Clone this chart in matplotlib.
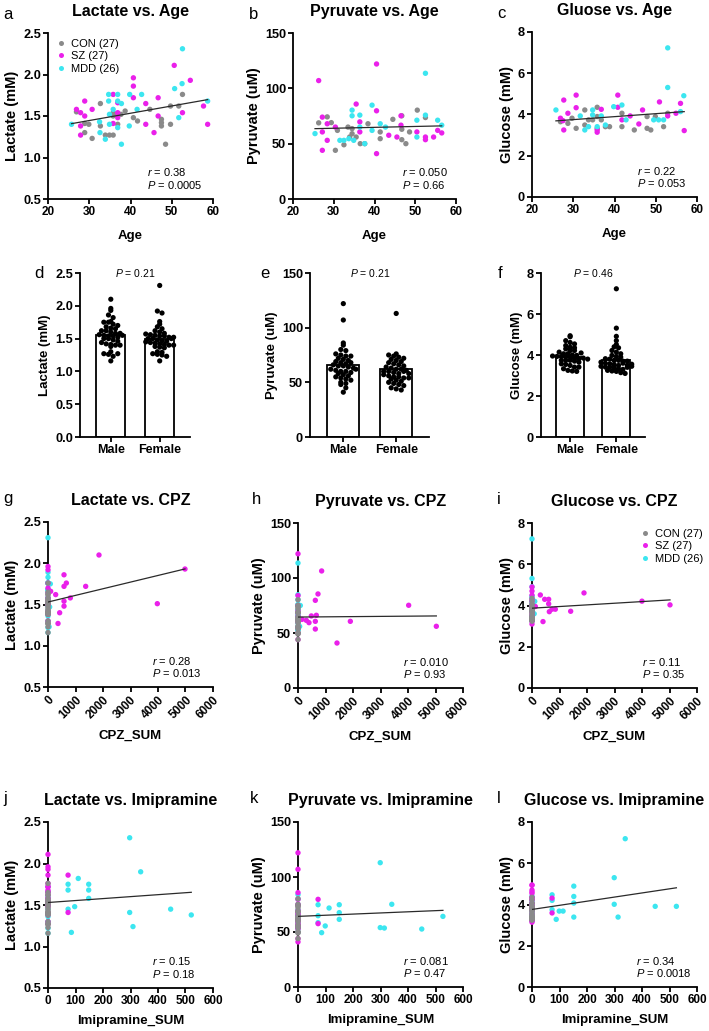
import numpy as np
import matplotlib
matplotlib.use('Agg')
import matplotlib.pyplot as plt

plt.rcParams['font.family'] = ['Liberation Sans', 'DejaVu Sans']
plt.rcParams['font.weight'] = 'normal'
plt.rcParams['axes.labelweight'] = 'bold'
plt.rcParams['axes.titleweight'] = 'bold'
plt.rcParams['mathtext.fontset'] = 'custom'
plt.rcParams['mathtext.rm'] = 'Liberation Sans'
plt.rcParams['mathtext.it'] = 'Liberation Sans:italic'
plt.rcParams['mathtext.bf'] = 'Liberation Sans:bold'

C_CON = '#8a8a8a'
C_SZ = '#ea20ea'
C_MDD = '#3ce6f0'
GROUP_LABELS = ['CON (27)', 'SZ (27)', 'MDD (26)']

# ---------------- Row 1 : metabolite vs age ----------------
age_con_a = [26.9, 28.9, 28.9, 29.9, 30.7, 32.7, 32.7, 33.9, 34.9, 35.8, 35.8, 35.8, 36.6, 37.7,
             38.7, 40.7, 41.7, 44.7, 47.5, 47.5, 47.5, 48.5, 49.7, 49.7, 51.7, 52.6, 36.9]
lac_con_a = [1.55, 1.41, 1.30, 1.40, 1.23, 1.65, 1.38, 1.27, 1.27, 1.27, 1.54, 1.50, 1.52, 1.52,
             1.56, 1.48, 1.44, 1.58, 1.46, 1.42, 1.38, 1.16, 1.62, 1.40, 1.62, 1.76, 1.40]
age_sz_a = [26.9, 27.9, 27.9, 27.9, 28.9, 28.9, 30.7, 35.8, 35.8, 36.9, 36.9, 36.9, 40.7, 40.7,
            40.7, 43.7, 43.7, 45.7, 46.7, 46.7, 50.6, 52.6, 54.5, 57.7, 58.7]
lac_sz_a = [1.58, 1.54, 1.38, 1.27, 1.68, 1.50, 1.58, 1.76, 1.41, 1.66, 1.48, 1.54, 1.96, 1.86,
            1.72, 1.65, 1.40, 1.30, 1.72, 1.50, 2.11, 1.54, 1.93, 1.62, 1.40]
age_mdd_a = [25.7, 32.5, 32.6, 33.9, 34.7, 34.7, 34.9, 35.8, 36.9, 36.9, 36.9, 37.8, 37.8, 39.8,
             39.7, 41.6, 42.7, 50.7, 51.7, 52.5, 52.6, 58.7, 34.9]
lac_mdd_a = [1.40, 1.43, 1.30, 1.22, 1.76, 1.68, 1.40, 1.58, 1.76, 1.68, 1.36, 1.65, 1.16, 1.76,
             1.38, 1.58, 1.76, 1.83, 1.48, 1.89, 2.31, 1.68, 1.52]

age_con_b = [26.3, 28.4, 29.4, 30.4, 32.5, 33.5, 34.5, 34.5, 35.5, 36.5, 37.6, 38.4, 41.4, 41.4,
             44.5, 46.7, 46.7, 46.7, 47.7, 48.6, 50.5, 52.5, 30.9, 33.9]
pyr_con_b = [68.8, 74.2, 69.0, 44.0, 49.0, 65.0, 63.6, 59.0, 56.0, 50.0, 50.0, 68.0, 60.6, 54.5,
             72.0, 75.2, 63.0, 53.6, 50.0, 60.6, 80.3, 73.6, 62.0, 56.0]
age_sz_b = [26.3, 27.2, 27.2, 27.2, 28.4, 28.4, 30.4, 35.5, 36.4, 36.4, 40.5, 40.5, 40.5, 43.5,
            45.5, 46.5, 46.5, 50.4, 52.5, 52.5, 54.5, 55.5, 56.5]
pyr_sz_b = [107.0, 74.0, 60.6, 44.0, 68.0, 53.0, 65.0, 85.8, 69.7, 60.6, 122.0, 79.7, 41.0, 57.6,
            56.0, 75.2, 66.7, 60.6, 56.0, 53.6, 56.0, 62.0, 59.7]
age_mdd_b = [25.4, 31.5, 32.5, 33.7, 34.5, 34.5, 34.9, 36.4, 36.4, 37.6, 39.4, 39.4, 41.4, 42.7,
             50.4, 50.4, 52.5, 52.5, 55.5, 56.5]
pyr_mdd_b = [59.1, 53.0, 53.0, 54.5, 80.3, 75.2, 53.0, 75.8, 65.0, 50.0, 84.8, 62.0, 68.0, 65.0,
             71.2, 56.0, 113.6, 75.8, 71.2, 66.7]

age_con_c = [26.9, 28.7, 29.7, 30.7, 32.8, 32.8, 33.7, 34.7, 35.8, 35.8, 35.8, 36.8, 37.8, 38.8,
             41.8, 41.8, 44.8, 47.9, 47.9, 48.8, 49.9, 51.9, 52.9]
glu_con_c = [3.65, 3.57, 3.82, 3.33, 4.22, 3.49, 3.74, 3.74, 4.35, 3.90, 3.33, 3.74, 3.41, 3.41,
             4.06, 3.41, 3.25, 3.90, 3.33, 3.25, 3.90, 3.41, 4.06]
age_sz_c = [26.9, 27.7, 27.7, 28.7, 30.7, 30.7, 35.8, 35.8, 36.8, 40.8, 40.8, 41.8, 43.8, 45.9,
            46.8, 50.9, 52.9, 54.9, 56.0, 56.9, 27.5]
glu_sz_c = [3.82, 4.70, 3.25, 4.06, 4.94, 4.33, 3.25, 3.14, 4.25, 4.94, 4.35, 3.74, 3.93, 3.54,
            4.22, 4.61, 3.93, 4.06, 4.54, 3.22, 3.70]
age_mdd_c = [25.8, 31.7, 32.8, 33.7, 34.7, 34.7, 35.8, 36.8, 37.8, 39.8, 41.8, 42.8, 49.5, 50.7,
             51.9, 52.9, 52.9, 56.0, 56.8]
glu_mdd_c = [4.22, 3.93, 3.25, 3.41, 4.22, 3.98, 3.41, 3.93, 3.49, 4.38, 4.46, 3.74, 3.74, 3.74,
             3.74, 5.31, 7.23, 4.14, 4.91]

# regression lines (intercept, slope)
fit_a = (1.182, 0.00878)
fit_b = (61.5, 0.081)
fit_c = (3.32, 0.0144)
fit_g = (1.53, 8.05e-5)
fit_h = (64.5, 2.0e-4)
fit_i = (3.87, 8.0e-5)
fit_j = (1.53, 2.36e-4)
fit_k = (64.2, 0.0104)
fit_l = (3.76, 0.0020)

stats_a = ('0.38', '0.0005')
stats_b = ('0.050', '0.66')
stats_c = ('0.22', '0.053')
stats_g = ('0.28', '0.013')
stats_h = ('0.010', '0.93')
stats_i = ('0.11', '0.35')
stats_j = ('0.15', '0.18')
stats_k = ('0.081', '0.47')
stats_l = ('0.34', '0.0018')

# ---------------- Row 2 : sex comparison ----------------
sex_labels = ['Male', 'Female']
lac_mean = [1.56, 1.50]
pyr_mean = [65.7, 61.8]
glu_mean = [3.89, 3.77]
p_sex = ['0.21', '0.21', '0.46']
lac_male = [2.10, 1.96, 1.93, 1.86, 1.82, 1.76, 1.75, 1.75, 1.72, 1.70, 1.68, 1.66, 1.65, 1.62,
            1.62, 1.60, 1.58, 1.58, 1.56, 1.55, 1.54, 1.54, 1.52, 1.50, 1.50, 1.48, 1.46, 1.44,
            1.42, 1.41, 1.40, 1.40, 1.38, 1.30, 1.27, 1.26, 1.23, 1.16, 1.27, 1.55]
lac_female = [2.31, 1.92, 1.89, 1.76, 1.72, 1.68, 1.65, 1.62, 1.60, 1.58, 1.57, 1.56, 1.55, 1.54,
              1.54, 1.52, 1.50, 1.50, 1.48, 1.47, 1.46, 1.45, 1.44, 1.43, 1.42, 1.41, 1.40, 1.40,
              1.38, 1.37, 1.36, 1.30, 1.29, 1.27, 1.26, 1.25, 1.23, 1.16, 1.50, 1.52]
pyr_male = [122, 107, 86, 84, 80, 79, 76, 75, 74, 74, 72, 71, 70, 69, 68, 67, 66, 65, 65, 64,
            63, 62, 61, 60, 60, 59, 58, 57, 56, 55, 54, 53, 52, 50, 49, 48, 45, 41, 62, 68]
pyr_female = [113, 76, 75, 74, 73, 72, 71, 70, 69, 68, 67, 66, 65, 64, 63, 62, 62, 61, 60, 60,
              59, 58, 57, 56, 55, 55, 54, 54, 53, 52, 51, 50, 49, 48, 47, 45, 44, 43, 60, 58]
glu_male = [4.94, 4.89, 4.70, 4.61, 4.54, 4.46, 4.38, 4.35, 4.30, 4.22, 4.22, 4.14, 4.06, 4.06,
            4.00, 3.98, 3.95, 3.93, 3.93, 3.90, 3.90, 3.82, 3.82, 3.74, 3.74, 3.74, 3.70, 3.65,
            3.57, 3.54, 3.49, 3.41, 3.41, 3.33, 3.25, 3.22, 3.20, 4.10, 3.85, 3.80]
glu_female = [7.23, 5.31, 4.91, 4.70, 4.51, 4.40, 4.35, 4.22, 4.14, 4.06, 3.98, 3.93, 3.90, 3.82,
              3.80, 3.74, 3.74, 3.70, 3.65, 3.60, 3.57, 3.54, 3.49, 3.45, 3.41, 3.41, 3.38, 3.33,
              3.30, 3.25, 3.22, 3.20, 3.14, 3.10, 3.60, 3.50, 3.40, 3.70, 3.55, 3.45]

# ---------------- Row 3 : CPZ ----------------
cpz_sz_g = [364, 424, 582, 582, 582, 582, 667, 812, 279, 97, 1370, 1854, 3975, 4981]
lac_sz_g = [1.27, 1.40, 1.86, 1.72, 1.54, 1.48, 1.76, 1.58, 1.62, 1.66, 1.72, 2.10, 1.51, 1.93]
lac_sz_cpz0 = [1.96, 1.92, 1.70, 1.64, 1.50, 1.42, 1.40, 1.54, 1.38, 1.30, 1.58, 1.76, 1.50]
cpz_mdd_g = [85, 60, 40]
lac_mdd_g = [1.75, 1.47, 1.23]

cpz_sz_h = [145, 303, 400, 485, 630, 630, 630, 667, 727, 860, 1418, 1903, 4024, 5030]
pyr_sz_h = [62.4, 61.5, 59.4, 65.5, 79.7, 60.6, 53.6, 66.1, 85.5, 106.4, 40.9, 60.6, 75.2, 56.1]
pyr_sz_cpz0 = [122, 84, 75, 70, 65, 60, 55, 50, 44, 68, 62]
cpz_mdd_h = [85, 60]
pyr_mdd_h = [75.0, 56.0]

cpz_sz_i = [121, 303, 400, 461, 606, 606, 630, 727, 848, 1406, 1891, 3999, 5018]
glu_sz_i = [3.95, 4.51, 3.22, 4.30, 4.30, 4.08, 3.70, 3.82, 3.82, 3.72, 4.61, 4.21, 4.03]
glu_sz_cpz0 = [4.90, 4.70, 3.10, 4.50, 3.80, 3.60, 3.30, 4.00, 3.70, 3.50, 4.20, 3.90, 3.25, 4.30]
cpz_mdd_i = [100, 80]
glu_mdd_i = [4.20, 3.60]

# ---------------- Row 4 : Imipramine ----------------
imi_mdd_j = [73, 73, 73, 97, 85, 110, 148, 148, 148, 297, 297, 309, 337, 446, 521]
lac_mdd_j = [1.75, 1.68, 1.45, 1.48, 1.17, 1.82, 1.75, 1.68, 1.58, 2.31, 1.41, 1.24, 1.90, 1.45, 1.38]
imi_sz_j = [73, 73]
lac_sz_j = [1.86, 1.41]
lac_mdd_imi0 = [1.72, 1.66, 1.60, 1.55, 1.50, 1.45, 1.40, 1.36, 1.30, 1.22, 1.16]

imi_mdd_k = [73, 73, 73, 86, 99, 113, 150, 150, 150, 299, 299, 314, 341, 450, 527]
pyr_mdd_k = [74.8, 64.8, 58.5, 49.4, 55.5, 71.8, 74.8, 67.6, 61.5, 113.0, 54.0, 53.6, 75.2, 52.7, 64.2]
imi_sz_k = [73, 73]
pyr_sz_k = [79.7, 57.6]
pyr_mdd_imi0 = [80, 75, 70, 66, 62, 58, 54, 53, 50, 84, 65]

imi_mdd_l = [73, 73, 73, 88, 99, 113, 152, 152, 152, 152, 299, 299, 313, 339, 448, 525]
glu_mdd_l = [4.47, 4.20, 3.75, 3.28, 3.68, 3.68, 4.89, 4.39, 4.07, 3.39, 5.30, 4.01, 3.39, 7.19, 3.91, 3.91]
imi_sz_l = [73, 73]
glu_sz_l = [4.31, 3.59]
glu_mdd_imi0 = [4.40, 4.20, 4.10, 3.90, 3.70, 3.50, 3.40, 3.30, 3.20, 4.00, 3.60]

# =====================================================================
W, H = 709, 1031
fig = plt.figure(figsize=(W / 100, H / 100), dpi=100)


def add_ax(l, r, t, b):
    return fig.add_axes([l / W, 1 - b / H, (r - l) / W, (b - t) / H])


def style(ax):
    for s in ('top', 'right'):
        ax.spines[s].set_visible(False)
    for s in ('left', 'bottom'):
        ax.spines[s].set_linewidth(1.3)
    ax.tick_params(direction='out', length=3.5, width=1.3, pad=1.5)
    ax.tick_params(axis='x', labelsize=8.5)
    ax.tick_params(axis='y', labelsize=9.2)


def boldticks(ax):
    for lab in ax.get_xticklabels() + ax.get_yticklabels():
        lab.set_fontweight('bold')


def scat(ax, x, y, c):
    ax.scatter(x, y, s=15, c=c, edgecolors='none', clip_on=False, zorder=3)


def letter(ax, s, dx, dy):
    ax.text(dx, dy, s, transform=ax.transAxes, fontsize=12, fontweight='normal',
            ha='left', va='center')


def stats(ax, r, p, x):
    ax.text(x, 0.16, r'$\mathit{r}$ = ' + r, transform=ax.transAxes, fontsize=8,
            fontweight='normal', ha='left', va='center')
    ax.text(x, 0.085, r'$\mathit{P}$ = ' + p, transform=ax.transAxes, fontsize=8,
            fontweight='normal', ha='left', va='center')


def fitline(ax, fit, x0, x1):
    xs = np.array([x0, x1])
    ax.plot(xs, fit[0] + fit[1] * xs, color='#2a2a2a', lw=0.9, zorder=4)


def legend(ax, loc, anchor):
    hs = [plt.Line2D([], [], ls='none', marker='o', ms=3.6, mfc=c, mec='none')
          for c in (C_CON, C_SZ, C_MDD)]
    ax.legend(hs, GROUP_LABELS, loc=loc, bbox_to_anchor=anchor, frameon=False,
              handlelength=0.6, handletextpad=0.6, labelspacing=0.2,
              borderaxespad=0, prop={'size': 8, 'weight': 'normal'})


# ---------------- Row 1 ----------------
row1 = [
    ((48, 213, 33, 199), 'a', 'Lactate vs. Age', 'Lactate (mM)',
     (age_con_a, lac_con_a, age_sz_a, lac_sz_a, age_mdd_a, lac_mdd_a), fit_a, stats_a,
     (0.5, 2.5), np.arange(0.5, 2.51, 0.5), '{:.1f}', 0.60),
    ((293, 456, 33, 199), 'b', 'Pyruvate vs. Age', 'Pyruvate (uM)',
     (age_con_b, pyr_con_b, age_sz_b, pyr_sz_b, age_mdd_b, pyr_mdd_b), fit_b, stats_b,
     (0, 150), np.arange(0, 151, 50), '{:.0f}', 0.67),
    ((532, 697, 32, 197), 'c', 'Gluose vs. Age', 'Glucose (mM)',
     (age_con_c, glu_con_c, age_sz_c, glu_sz_c, age_mdd_c, glu_mdd_c), fit_c, stats_c,
     (0, 8), np.arange(0, 8.1, 2), '{:.0f}', 0.635),
]
for rect, let, title, ylab, d, fit, st, ylim, yt, fmt, sx in row1:
    ax = add_ax(*rect)
    style(ax)
    scat(ax, d[0], d[1], C_CON)
    scat(ax, d[2], d[3], C_SZ)
    scat(ax, d[4], d[5], C_MDD)
    allx = np.concatenate([d[0], d[2], d[4]])
    fitline(ax, fit, allx.min(), allx.max())
    ax.set_xlim(20, 60)
    ax.set_xticks([20, 30, 40, 50, 60])
    ax.set_ylim(*ylim)
    ax.set_yticks(yt)
    ax.set_yticklabels([fmt.format(v) for v in yt])
    boldticks(ax)
    ax.set_title(title, fontsize=11.5, fontweight='bold', pad=12)
    ax.set_ylabel(ylab, fontsize=10.5, labelpad=3)
    ax.set_xlabel('Age', fontsize=9.5, labelpad=9)
    stats(ax, st[0], st[1], sx)
    letter(ax, let, -0.27 if let != 'c' else -0.21, 1.11)
    if let == 'a':
        legend(ax, 'upper left', (0.03, 0.99))

# ---------------- Row 2 ----------------
row2 = [
    ((80, 190, 273, 437), 'd', 'Lactate (mM)', lac_mean, lac_male, lac_female, p_sex[0],
     (0, 2.5), np.arange(0, 2.51, 0.5), '{:.1f}', 0.06),
    ((310, 429, 273, 437), 'e', 'Pyruvate (uM)', pyr_mean, pyr_male, pyr_female, p_sex[1],
     (0, 150), np.arange(0, 151, 50), '{:.0f}', 3.6),
    ((541, 645, 273, 437), 'f', 'Glucose (mM)', glu_mean, glu_male, glu_female, p_sex[2],
     (0, 8), np.arange(0, 8.1, 2), '{:.0f}', 0.19),
]


def swarm(vals, binsize, step=0.095):
    vals = np.asarray(vals, float)
    bins = np.floor((vals - vals.min()) / binsize)
    off = np.zeros(len(vals))
    for b in np.unique(bins):
        idx = np.where(bins == b)[0]
        n = len(idx)
        off[idx] = (np.arange(n) - (n - 1) / 2) * step
    return off


for rect, let, ylab, means, male, female, p, ylim, yt, fmt, binsize in row2:
    ax = add_ax(*rect)
    style(ax)
    ax.bar([0, 1], means, width=0.6, color='white', edgecolor='black', lw=1.3, zorder=2)
    for i, vals in enumerate((male, female)):
        ax.scatter(i + swarm(vals, binsize), vals, s=14, c='black', edgecolors='none',
                   zorder=3, clip_on=False)
    ax.set_xlim(-0.63, 1.62)
    ax.set_xticks([0, 1])
    ax.set_xticklabels(sex_labels)
    ax.tick_params(axis='x', labelsize=9)
    ax.set_ylim(*ylim)
    ax.set_yticks(yt)
    ax.set_yticklabels([fmt.format(v) for v in yt])
    boldticks(ax)
    ax.set_ylabel(ylab, fontsize=9.5, labelpad=3)
    ax.text(0.5, ylim[1], r'$\mathit{P}$ = ' + p, ha='center', va='center', fontsize=7.5,
            fontweight='normal')
    letter(ax, let, -0.42, 1.0)

# ---------------- Row 3 ----------------
row3 = [
    ((48, 213, 522, 687), 'g', 'Lactate vs. CPZ', 'Lactate (mM)',
     lac_con_a, lac_sz_cpz0, lac_mdd_a, cpz_sz_g, lac_sz_g, cpz_mdd_g, lac_mdd_g, fit_g, stats_g,
     (0.5, 2.5), np.arange(0.5, 2.51, 0.5), '{:.1f}', 0.63),
    ((298, 463, 523, 688), 'h', 'Pyruvate vs. CPZ', 'Pyruvate (uM)',
     pyr_con_b, pyr_sz_cpz0, pyr_mdd_b, cpz_sz_h, pyr_sz_h, cpz_mdd_h, pyr_mdd_h, fit_h, stats_h,
     (0, 150), np.arange(0, 151, 50), '{:.0f}', 0.635),
    ((532, 697, 523, 688), 'i', 'Glucose vs. CPZ', 'Glucose (mM)',
     glu_con_c, glu_sz_cpz0, glu_mdd_c, cpz_sz_i, glu_sz_i, cpz_mdd_i, glu_mdd_i, fit_i, stats_i,
     (0, 8), np.arange(0, 8.1, 2), '{:.0f}', 0.665),
]
for (rect, let, title, ylab, con0, sz0, mdd0, sx_, sy_, mx_, my_, fit, st, ylim, yt, fmt,
     stx) in row3:
    ax = add_ax(*rect)
    style(ax)
    scat(ax, np.zeros(len(mdd0)), mdd0, C_MDD)
    scat(ax, mx_, my_, C_MDD)
    scat(ax, np.zeros(len(sz0)), sz0, C_SZ)
    scat(ax, sx_, sy_, C_SZ)
    scat(ax, np.zeros(len(con0)), con0, C_CON)
    fitline(ax, fit, 0, max(sx_))
    ax.set_xlim(0, 6000)
    xt = np.arange(0, 6001, 1000)
    ax.set_xticks(xt)
    ax.set_xticklabels([str(v) for v in xt], rotation=45, ha='right', va='top',
                       rotation_mode='anchor')
    ax.set_ylim(*ylim)
    ax.set_yticks(yt)
    ax.set_yticklabels([fmt.format(v) for v in yt])
    boldticks(ax)
    ax.set_title(title, fontsize=11.5, fontweight='bold', pad=12)
    ax.set_ylabel(ylab, fontsize=10.5, labelpad=3)
    ax.set_xlabel('CPZ_SUM', fontsize=9.5, labelpad=6)
    stats(ax, st[0], st[1], stx)
    letter(ax, let, -0.27 if let == 'g' else (-0.28 if let == 'h' else -0.21), 1.14)
    if let == 'i':
        legend(ax, 'upper left', (0.64, 0.99))

# ---------------- Row 4 ----------------
row4 = [
    ((48, 213, 822, 988), 'j', 'Lactate vs. Imipramine', 'Lactate (mM)',
     lac_con_a, lac_sz_a, lac_mdd_imi0, imi_sz_j, lac_sz_j, imi_mdd_j, lac_mdd_j, fit_j, stats_j,
     (0.5, 2.5), np.arange(0.5, 2.51, 0.5), '{:.1f}', 0.63),
    ((298, 463, 822, 987), 'k', 'Pyruvate vs. Imipramine', 'Pyruvate (uM)',
     pyr_con_b, pyr_sz_b, pyr_mdd_imi0, imi_sz_k, pyr_sz_k, imi_mdd_k, pyr_mdd_k, fit_k, stats_k,
     (0, 150), np.arange(0, 151, 50), '{:.0f}', 0.635),
    ((532, 697, 822, 987), 'l', 'Glucose vs. Imipramine', 'Glucose (mM)',
     glu_con_c, glu_sz_c, glu_mdd_imi0, imi_sz_l, glu_sz_l, imi_mdd_l, glu_mdd_l, fit_l, stats_l,
     (0, 8), np.arange(0, 8.1, 2), '{:.0f}', 0.63),
]
for (rect, let, title, ylab, con0, sz0, mdd0, sx_, sy_, mx_, my_, fit, st, ylim, yt, fmt,
     stx) in row4:
    ax = add_ax(*rect)
    style(ax)
    scat(ax, np.zeros(len(mdd0)), mdd0, C_MDD)
    scat(ax, mx_, my_, C_MDD)
    scat(ax, np.zeros(len(sz0)), sz0, C_SZ)
    scat(ax, sx_, sy_, C_SZ)
    scat(ax, np.zeros(len(con0)), con0, C_CON)
    fitline(ax, fit, 0, max(mx_))
    ax.set_xlim(0, 600)
    ax.set_xticks(np.arange(0, 601, 100))
    ax.set_ylim(*ylim)
    ax.set_yticks(yt)
    ax.set_yticklabels([fmt.format(v) for v in yt])
    boldticks(ax)
    ax.set_title(title, fontsize=11.5, fontweight='bold', pad=12)
    ax.set_ylabel(ylab, fontsize=10.5, labelpad=3)
    ax.set_xlabel('Imipramine_SUM', fontsize=9.5, labelpad=6)
    stats(ax, st[0], st[1], stx)
    letter(ax, let, -0.27 if let == 'j' else (-0.29 if let == 'k' else -0.21), 1.14)

fig.savefig('out.png', dpi=100)
